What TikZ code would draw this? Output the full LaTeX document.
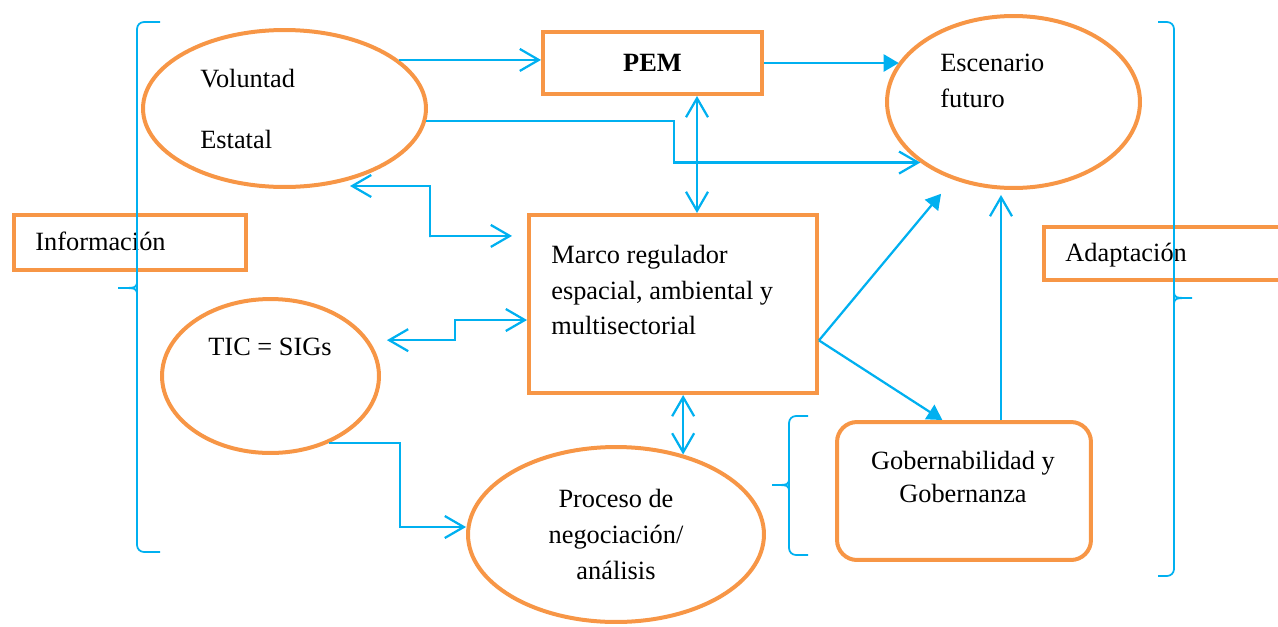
\documentclass[tikz,border=0pt]{standalone}
\usepackage{fontspec}
\setmainfont{Liberation Serif}
\usetikzlibrary{shapes.geometric, arrows.meta, positioning, calc}

\begin{document}
\begin{tikzpicture}[x=0.02cm, y=-0.02cm,
  forma/.style={draw=laranja, line width=0.08cm, inner sep=0pt},
  elipse/.style={forma, ellipse},
  caixa/.style={forma, rectangle},
  texto/.style={font=\fontsize{15}{20.4}\selectfont, inner sep=0pt},
  ligacao/.style={draw=azul, line width=0.045cm},
  seta/.style={ligacao, -{Straight Barb[length=0.38cm, width=0.44cm]}},
  dupla/.style={ligacao, {Straight Barb[length=0.38cm, width=0.44cm]}-{Straight Barb[length=0.38cm, width=0.44cm]}},
  setacheia/.style={ligacao, -{Triangle[length=0.3cm, width=0.34cm]}},
  chave/.style={draw=azul, line width=0.035cm, rounded corners=4pt}]
% --- CORES HEX ---
\definecolor{laranja}{HTML}{F79646}
\definecolor{azul}{HTML}{00B0F0}

\useasboundingbox (0,0) rectangle (1278,626);
\clip (0,0) rectangle (1278,626);

% LAYER 1: Elipses
\node[elipse, minimum width=5.66cm, minimum height=3.14cm] (vol) at (284.5,108.5) {};
\node[texto, anchor=west, align=left] (volt) at (200,109) {Voluntad\\[14.7pt]Estatal};

\node[elipse, minimum width=5.06cm, minimum height=3.44cm] (esc) at (1013.5,102) {};
\node[texto, anchor=west, align=left] (esct) at (940,81) {Escenario\\futuro};

\node[elipse, minimum width=4.34cm, minimum height=3.08cm] (tic) at (270.5,376) {};
\node[texto] (tict) at (270,347) {TIC = SIGs};

\node[elipse, texto, align=center, minimum width=5.92cm, minimum height=3.5cm] (proc) at (616,534.5) {Proceso de\\negociación/\\análisis};

% LAYER 2: Caixas
\node[caixa, texto, font=\fontsize{15}{20.4}\selectfont\bfseries, minimum width=4.38cm, minimum height=1.24cm] (pem) at (652.5,63) {PEM};

\node[caixa, minimum width=5.76cm, minimum height=3.56cm] (marco) at (673,304) {};
\node[texto, anchor=west, align=left] (marcot) at (551,290) {Marco regulador\\espacial, ambiental y\\multisectorial};

\node[caixa, minimum width=4.64cm, minimum height=1.1cm] (info) at (130,242.5) {};
\node[texto, anchor=west] (infot) at (35,241) {Información};

\node[caixa, minimum width=4.92cm, minimum height=1.06cm] (adap) at (1167,253.5) {};
\node[texto, anchor=west] (adapt) at (1065,255) {Adaptación};

\node[caixa, rounded corners=0.4cm, minimum width=5.08cm, minimum height=2.76cm] (gov) at (964,491) {};
\node[texto, align=center] (govt) at (963,477) {Gobernabilidad y\\[-1.7pt]Gobernanza};

% LAYER 3: Chaves
\draw[chave] (160,22) -- (137,22) -- (137,552) -- (160,552);
\draw[azul, line width=0.035cm] (137,280) .. controls (137,288) .. (118,288) (137,296) .. controls (137,288) .. (118,288);
\draw[chave] (1158,22) -- (1174,22) -- (1174,576) -- (1158,576);
\draw[azul, line width=0.035cm] (1174,290) .. controls (1174,298) .. (1192,298) (1174,306) .. controls (1174,298) .. (1192,298);
\draw[chave] (808,416) -- (789,416) -- (789,555) -- (808,555);
\draw[azul, line width=0.035cm] (789,477) .. controls (789,485) .. (772,485) (789,493) .. controls (789,485) .. (772,485);

% LAYER 4: Setas
\coordinate (d3) at (674,162);
\coordinate (d4) at (697,0);
\coordinate (vB) at (350,186);
\coordinate (d5) at (430,237);
\coordinate (d6) at (455,320);
\coordinate (d7) at (400,527);
\coordinate (d11) at (1001,0);

\draw[seta] (vol.23) -- (vol.23 -| pem.west);
\draw[setacheia] (pem.east) -- (pem.east -| esc.161);
\draw[seta] (vol.-5) -| (d3) |- (esc.213);
\draw[dupla] (pem.south -| d4) -- (marco.north -| d4);
\draw[dupla, shorten >=0.3cm] (vB) -| (d5) |- (marco.155);
\draw[dupla, shorten <=0.36cm] (tic.20) -| (d6) |- (marco.west |- d6);
\draw[seta] (tic.-49) -| (d7) -- (d7 -| proc.west);
\draw[dupla] (marco.south -| proc.50) -- (proc.50);
\draw[setacheia, shorten >=0.37cm] (marco.-14) -- (esc.232);
\draw[setacheia] (marco.-14) -- (gov.107);
\draw[seta, shorten >=0.1cm] (gov.north -| d11) -- (esc.south -| d11);
\end{tikzpicture}
\end{document}
